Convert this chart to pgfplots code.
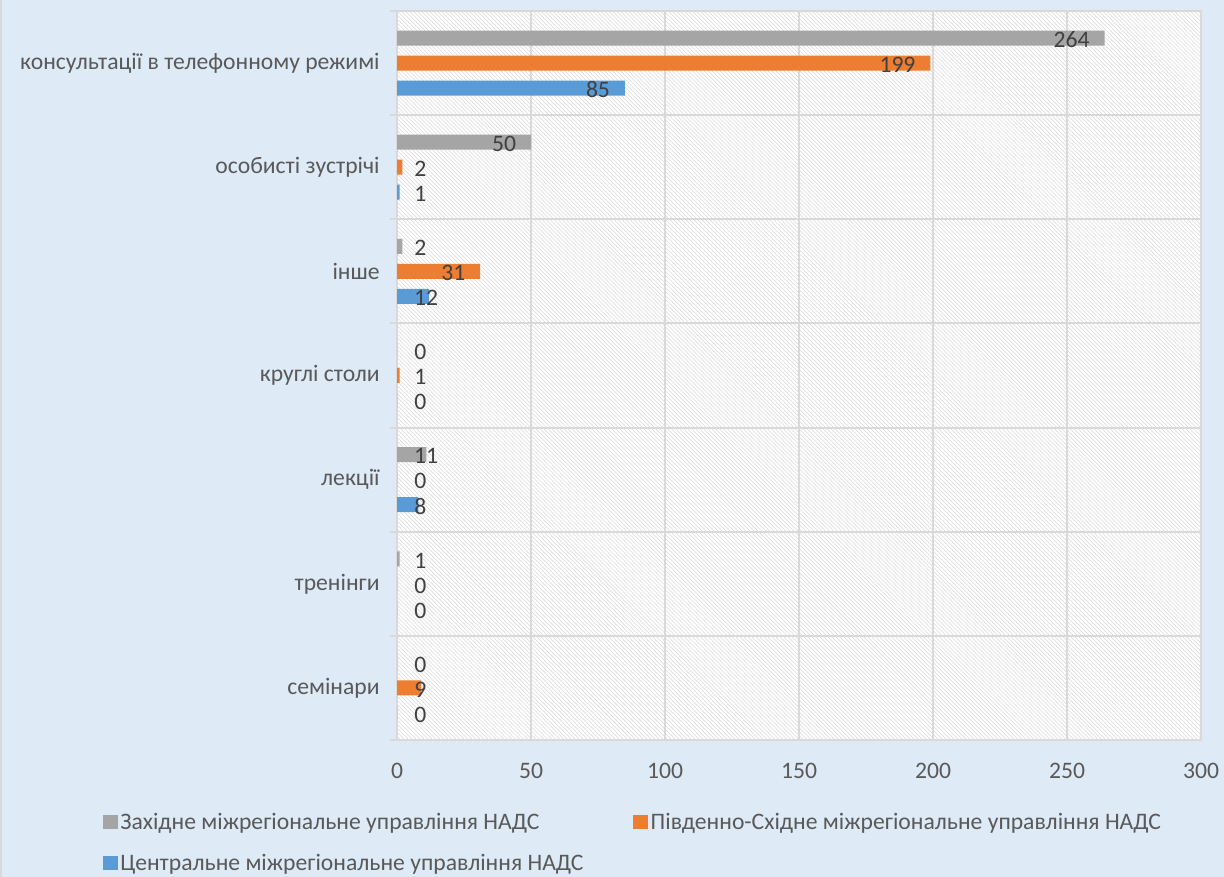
\documentclass[border=0pt]{standalone}
\usepackage{fontspec}
\setmainfont{Carlito}
\usepackage{pgfplots}
\pgfplotsset{compat=1.18}
\usepackage{pgfplotstable}
\usetikzlibrary{patterns}
\definecolor{bgblue}{HTML}{DEEBF7}
\definecolor{cgray}{HTML}{A5A5A5}
\definecolor{corange}{HTML}{ED7D31}
\definecolor{cblue}{HTML}{5B9BD5}
\definecolor{gridc}{HTML}{D9D9D9}
\definecolor{txt}{HTML}{595959}
\definecolor{lbl}{HTML}{404040}

\pgfplotstableread{
y gray orange blue lg lo lb
0 0   9   0  6.34 6.34 6.34
1 1   0   0  6.34 6.34 6.34
2 11  0   8  6.34 6.34 6.34
3 0   1   0  6.34 6.34 6.34
4 2   31  12 6.34 16.44 6.34
5 50  2   1  35.44 6.34 6.34
6 264 199 85 244.96 179.96 70.44
}\data

\begin{document}
\begin{tikzpicture}
\fill[bgblue] (0,0) rectangle (918bp,657.75bp);
\fill[gridc] (0,0) rectangle (1.2bp,657.75bp);
\begin{axis}[
  at={(297.75bp,102.75bp)}, anchor=south west,
  scale only axis, width=603bp, height=546.75bp,
  xmin=0, xmax=300, ymin=-0.5, ymax=6.5,
  xtick={0,50,...,300},
  ytick={0,...,6},
  yticklabels={семінари,тренінги,лекції,круглі столи,інше,особисті зустрічі,консультації в телефонному режимі},
  minor ytick={-0.5,0.5,...,6.5},
  xmajorgrids, yminorgrids,
  major grid style={gridc, line width=1.5bp},
  minor grid style={gridc, line width=1.5bp},
  axis line style={gridc, line width=1.5bp},
  major tick length=0pt, minor tick length=5.5bp,
  tick align=outside, tick pos=left,
  minor tick style={gridc, line width=1.5bp},
  /pgf/number format/assume math mode=true,
  ticklabel style={font=\fontsize{17.8}{21}\selectfont, text=txt},
  xticklabel style={yshift=-14bp},
  yticklabel style={xshift=-9.5bp},
  axis background/.style={fill=white, postaction={pattern=north west lines, pattern color=black!15}},
  point meta=x,
  nodes near coords,
  every node near coord/.append style={font=\fontsize{17.8}{21}\selectfont, text=lbl, anchor=west, inner sep=0pt, xshift={(\dx)*2.0195pt}},
  reverse legend,
  legend columns=2,
  legend cell align=left,
  legend style={at={(-0.366,-0.096)}, anchor=north west, draw=none, fill=none,
    font=\fontsize{17.8}{21}\selectfont, text=txt, inner sep=0pt,
    /tikz/every even column/.append style={column sep=35.5bp},
    /tikz/row sep=13bp},
]
\addplot[xbar, bar width=0.144, bar shift=-0.24, fill=cblue, draw=none,
  visualization depends on={\thisrow{lb}-\thisrow{blue} \as \dx},
  every node near coord/.append style={yshift=-20bp},
  legend image code/.code={\fill[cblue] (0bp,-5.5bp) rectangle (11bp,5.5bp);}]
  table[x=blue, y=y] {\data};
\addlegendentry{Центральне міжрегіональне управління НАДС}
\addplot[xbar, bar width=0.144, bar shift=0, fill=corange, draw=none,
  visualization depends on={\thisrow{lo}-\thisrow{orange} \as \dx},
  every node near coord/.append style={yshift=-1.25bp},
  legend image code/.code={\fill[corange] (0bp,-5.5bp) rectangle (11bp,5.5bp);}]
  table[x=orange, y=y] {\data};
\addlegendentry{Південно-Східне міжрегіональне управління НАДС}
\addplot[xbar, bar width=0.144, bar shift=0.24, fill=cgray, draw=none,
  visualization depends on={\thisrow{lg}-\thisrow{gray} \as \dx},
  every node near coord/.append style={yshift=17.5bp},
  legend image code/.code={\fill[cgray] (0bp,-5.5bp) rectangle (11bp,5.5bp);}]
  table[x=gray, y=y] {\data};
\addlegendentry{Західне міжрегіональне управління НАДС}
\end{axis}
\end{tikzpicture}
\end{document}
